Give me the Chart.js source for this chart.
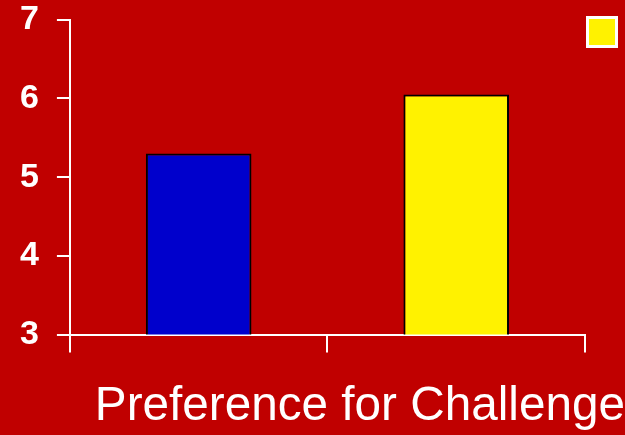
<!DOCTYPE html>
<html>
<head>
<meta charset="utf-8">
<script src="https://cdn.jsdelivr.net/npm/chart.js@4/dist/chart.umd.min.js"></script>
<style>
  body { margin: 0; background: #C00000; overflow: hidden; }
  #wrap { width: 625px; height: 435px; }
</style>
</head>
<body>
<div id="wrap"><canvas id="myChart"></canvas></div>
<script>
// data
const categories = ['', ''];
const seriesBlue = [5.3, null];
const seriesYellow = [null, 6.05];
const yTicks = [3, 4, 5, 6, 7];
const axisTitle = 'Preference for Challenge';

Chart.defaults.font.family = '"Liberation Sans", Arial, sans-serif';
Chart.defaults.color = '#FFFFFF';

const ctx = document.getElementById('myChart').getContext('2d');
const myChart = new Chart(ctx, {
  type: 'bar',
  data: {
    labels: categories,
    datasets: [
      {
        label: '',
        data: seriesBlue,
        backgroundColor: '#0000CC',
        borderColor: '#000000',
        borderWidth: 2,
        skipNull: true
      },
      {
        label: '',
        data: seriesYellow,
        backgroundColor: '#FFF200',
        borderColor: '#000000',
        borderWidth: 2,
        skipNull: true
      }
    ]
  },
  options: {
    responsive: true,
    maintainAspectRatio: false,
    animation: false,
    layout: { padding: { left: 2, top: 0, right: 0, bottom: 0 } },
    datasets: {
      bar: { categoryPercentage: 1, barPercentage: 0.41 }
    },
    plugins: {
      // the axis title runs past the right end of the axis, so use the chart title
      title: {
        display: true,
        position: 'bottom',
        align: 'end',
        text: axisTitle,
        color: '#FFFFFF',
        font: { size: 47.7, weight: 'normal' },
        padding: { top: 25.2, bottom: 0 }
      },
      legend: {
        position: 'right',
        align: 'start',
        maxWidth: 40,
        labels: {
          filter: (item) => item.datasetIndex === 1,
          boxWidth: 29,
          boxHeight: 29,
          padding: 2.5,
          font: { size: 59 },
          generateLabels: (chart) => {
            const items = Chart.defaults.plugins.legend.labels.generateLabels(chart);
            items.forEach(it => { it.strokeStyle = '#FFFFFF'; it.lineWidth = 3; });
            return items;
          }
        }
      },
      tooltip: { enabled: false }
    },
    scales: {
      x: {
        grid: {
          drawOnChartArea: false,
          color: '#FFFFFF',
          lineWidth: 2,
          tickLength: 18
        },
        border: { color: '#FFFFFF', width: 2 },
        ticks: { display: false }
      },
      y: {
        min: yTicks[0],
        max: yTicks[yTicks.length - 1],
        ticks: {
          stepSize: 1,
          padding: 18,
          color: '#FFFFFF',
          font: { size: 34, weight: 'bold', lineHeight: 0.1 }
        },
        grid: {
          drawOnChartArea: false,
          color: '#FFFFFF',
          lineWidth: 2,
          tickLength: 13
        },
        border: { color: '#FFFFFF', width: 2 }
      }
    }
  }
});
</script>
</body>
</html>
